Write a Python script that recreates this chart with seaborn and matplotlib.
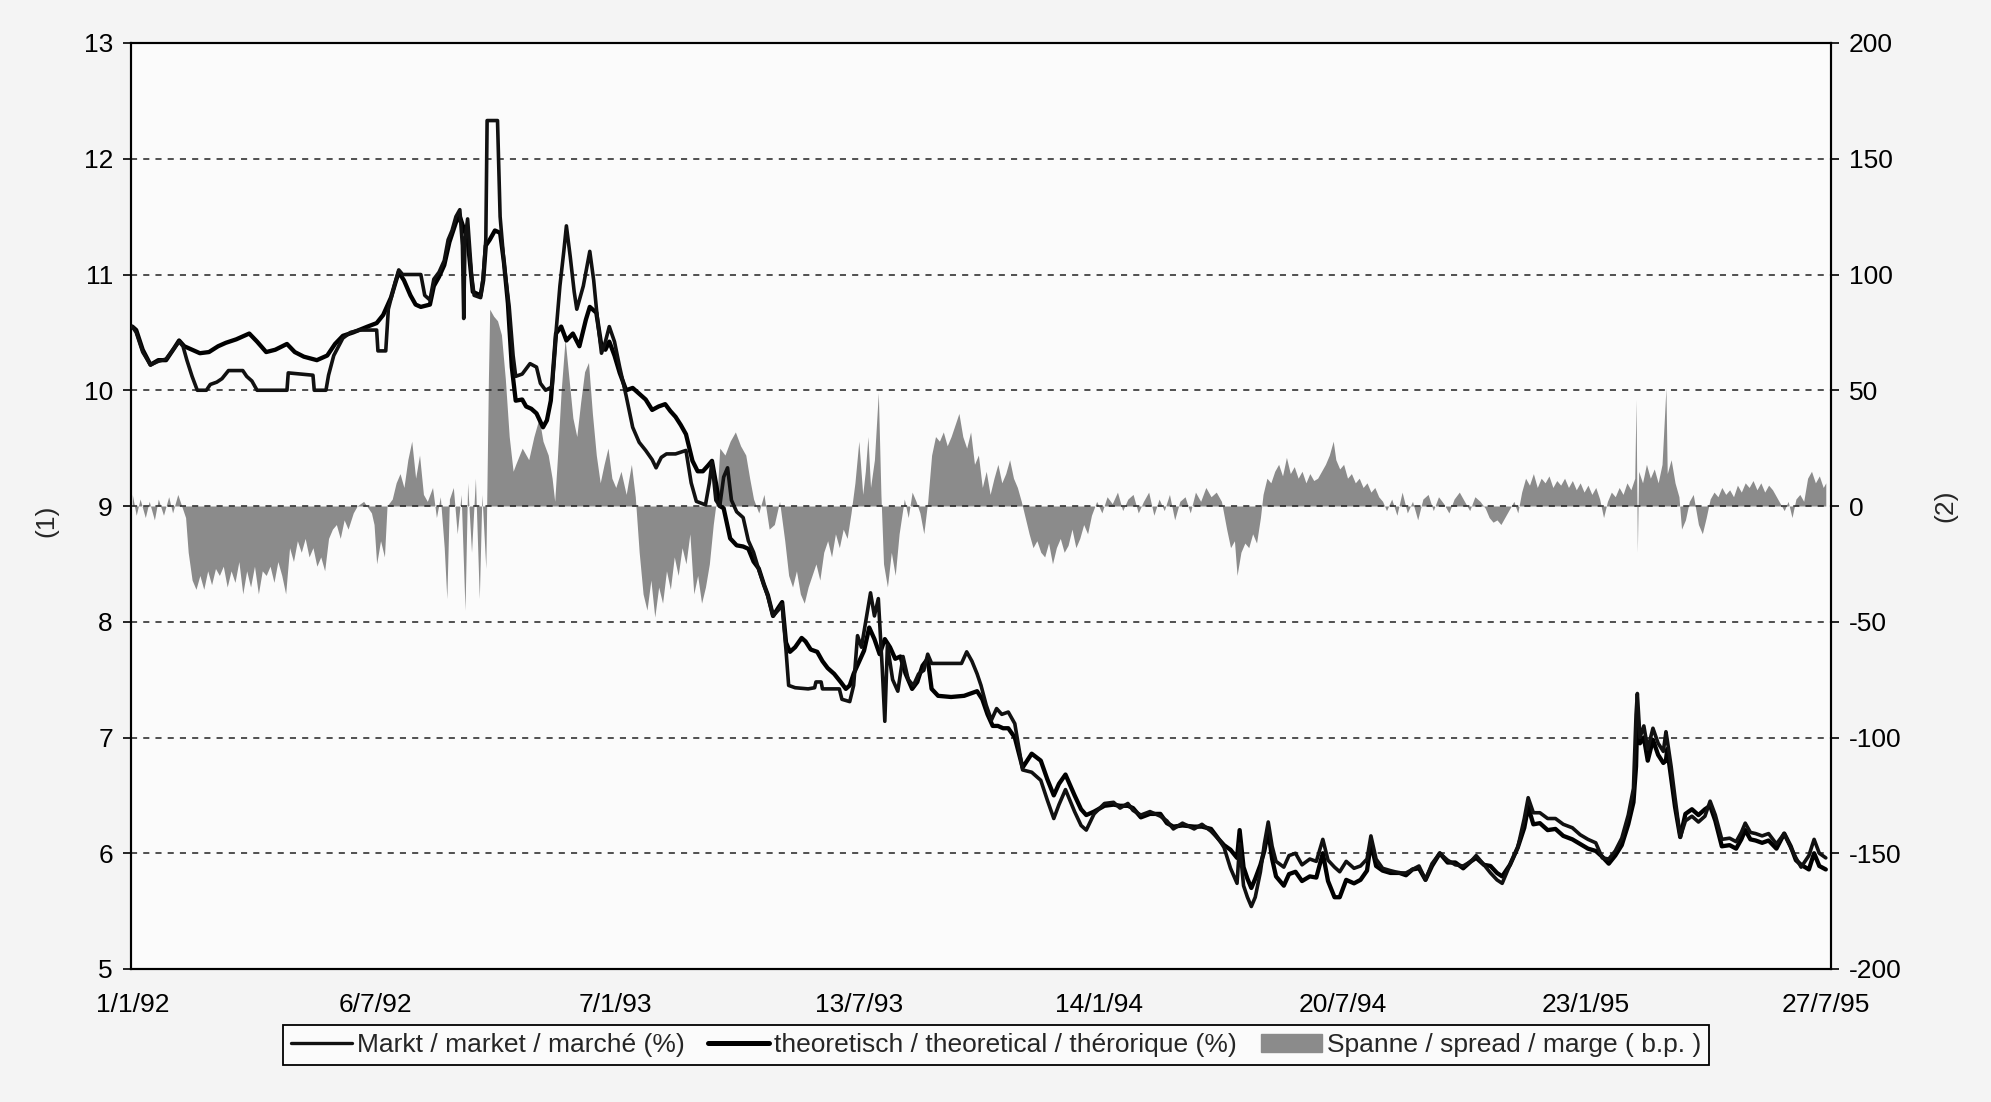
import matplotlib
matplotlib.use("Agg")
import matplotlib.pyplot as plt
from matplotlib.lines import Line2D
from matplotlib.patches import Patch
import numpy as np
import pandas as pd
import seaborn as sns

# ---------------------------------------------------------------------------
# Data: days counted from 1 Jan 1992
# ---------------------------------------------------------------------------
START = pd.Timestamp("1992-01-01")

# market yield (%)
mkt_day = [0, 3, 8, 14, 20, 26, 32, 36, 39, 42, 46, 50, 57, 60, 65, 69, 74, 85, 88, 92,
           96, 119, 120, 139, 140, 149, 151, 155, 162, 168, 175, 188, 189, 195, 197, 202, 205, 208, 222, 225,
           229, 232, 236, 240, 243, 246, 249, 252, 254, 255, 256, 258, 261, 263, 268, 270, 272, 273, 281, 283,
           286, 290, 293, 295, 300, 306, 311, 314, 318, 323, 326, 329, 332, 334, 337, 340, 342, 347, 352, 355,
           358, 361, 364, 367, 371, 375, 380, 385, 390, 395, 400, 403, 407, 411, 418, 426, 430, 434, 441, 444,
           446, 449, 452, 455, 458, 461, 465, 470, 474, 478, 482, 486, 489, 493, 497, 500, 503, 505, 510, 520,
           525, 526, 530, 531, 544, 546, 552, 555, 558, 561, 565, 568, 571, 574, 577, 579, 581, 585, 589, 593,
           597, 601, 605, 609, 612, 615, 638, 642, 646, 650, 653, 657, 661, 665, 669, 674,
           679, 685, 692, 699, 704, 709, 713, 718, 725, 730, 734, 740, 748, 755, 760, 766, 770, 776, 783, 791,
           796, 801, 808, 817, 823, 830, 836, 840, 845, 850, 852, 855, 858, 861, 864, 868, 871, 874, 877, 880,
           886, 890, 895, 900, 906, 911, 916, 920, 925, 929, 934, 940, 945, 950, 953, 957, 962, 968, 975, 980,
           985, 990, 995, 1000, 1006, 1012, 1018, 1024, 1030, 1034, 1040, 1045, 1050, 1054, 1060, 1066, 1071, 1074, 1078, 1083,
           1089, 1095, 1101, 1108, 1114, 1120, 1126, 1131, 1136, 1141, 1146, 1151, 1155, 1157, 1158, 1160, 1163, 1166, 1170, 1174,
           1178, 1180, 1181, 1184, 1187, 1191, 1195, 1200, 1205, 1210, 1214, 1218, 1223, 1229, 1234, 1238, 1241, 1245, 1249, 1254,
           1259, 1265, 1271, 1276, 1280, 1284, 1290, 1294, 1298, 1303]
mkt_pct = [10.55, 10.50, 10.33, 10.22, 10.25, 10.27, 10.36, 10.42, 10.38, 10.26, 10.12, 10.00, 10.00, 10.05, 10.07, 10.10, 10.17, 10.17, 10.12, 10.08,
           10.00, 10.00, 10.15, 10.13, 10.00, 10.00, 10.13, 10.30, 10.45, 10.50, 10.52, 10.52, 10.34, 10.34, 10.70, 10.92, 11.04, 11.00, 11.00, 10.82,
           10.78, 10.96, 11.02, 11.12, 11.30, 11.38, 11.50, 11.56, 11.25, 10.62, 11.30, 11.48, 11.00, 10.82, 10.80, 10.98, 11.30, 12.33, 12.33, 11.50,
           11.10, 10.72, 10.30, 10.12, 10.14, 10.23, 10.20, 10.06, 10.00, 10.03, 10.50, 10.90, 11.20, 11.42, 11.15, 10.85, 10.70, 10.90, 11.20, 10.95,
           10.60, 10.32, 10.42, 10.55, 10.42, 10.20, 9.95, 9.68, 9.55, 9.48, 9.40, 9.33, 9.42, 9.45, 9.45, 9.48, 9.20, 9.04, 9.01, 9.20,
           9.38, 9.05, 9.00, 9.25, 9.33, 9.05, 8.95, 8.90, 8.70, 8.60, 8.45, 8.32, 8.22, 8.05, 8.10, 8.15, 7.75, 7.45, 7.43, 7.42,
           7.43, 7.48, 7.48, 7.42, 7.42, 7.33, 7.31, 7.45, 7.88, 7.78, 8.05, 8.25, 8.05, 8.20, 7.60, 7.14, 7.80, 7.50, 7.40, 7.70,
           7.50, 7.45, 7.55, 7.58, 7.72, 7.64, 7.64, 7.74, 7.66, 7.55, 7.45, 7.28, 7.15, 7.25, 7.20, 7.22,
           7.12, 6.72, 6.70, 6.63, 6.46, 6.30, 6.42, 6.55, 6.36, 6.24, 6.20, 6.34, 6.43, 6.44, 6.39, 6.43, 6.37, 6.33, 6.36, 6.32,
           6.28, 6.21, 6.26, 6.21, 6.25, 6.19, 6.12, 6.05, 5.87, 5.74, 6.08, 5.72, 5.62, 5.54, 5.62, 5.84, 6.08, 6.27, 6.06, 5.93,
           5.88, 5.98, 6.00, 5.90, 5.95, 5.93, 6.12, 5.94, 5.88, 5.84, 5.93, 5.87, 5.89, 5.95, 6.15, 5.95, 5.87, 5.85, 5.83, 5.83,
           5.86, 5.89, 5.77, 5.91, 6.00, 5.94, 5.90, 5.89, 5.93, 5.98, 5.90, 5.83, 5.77, 5.74, 5.90, 6.05, 6.30, 6.48, 6.35, 6.35,
           6.30, 6.30, 6.25, 6.22, 6.16, 6.12, 6.09, 5.96, 5.95, 6.02, 6.13, 6.33, 6.56, 7.20, 7.38, 7.00, 7.10, 6.90, 7.08, 6.95,
           6.88, 7.05, 6.98, 6.75, 6.48, 6.14, 6.28, 6.32, 6.27, 6.32, 6.45, 6.33, 6.12, 6.13, 6.10, 6.18, 6.26, 6.18, 6.17, 6.15,
           6.17, 6.08, 6.17, 6.05, 5.96, 5.88, 5.98, 6.12, 6.00, 5.96]

# theoretical yield (%)
thr_day = [0, 3, 8, 14, 20, 26, 32, 36, 40, 46, 52, 59, 66, 72, 80, 90, 96, 103, 110, 119,
           125, 132, 142, 150, 156, 162, 170, 181, 188, 193, 199, 203, 205, 209, 214, 218, 222, 229, 232, 236,
           240, 244, 249, 252, 255, 258, 262, 268, 270, 272, 275, 279, 283, 286, 289, 292, 295, 300, 303, 307,
           311, 316, 319, 322, 326, 330, 334, 339, 344, 349, 352, 357, 361, 364, 367, 371, 375, 380, 385, 390,
           395, 400, 405, 410, 414, 418, 422, 426, 431, 435, 439, 443, 446, 449, 452, 455, 460, 465, 470, 474,
           478, 482, 486, 489, 493, 497, 500, 503, 506, 510, 515, 518, 522, 527, 531, 535, 540, 545, 549, 552,
           555, 559, 563, 567, 571, 575, 579, 583, 587, 591, 595, 600, 604, 608, 612, 615, 620, 630, 640, 645,
           650, 654, 658, 662, 666, 670, 674,
           679, 685, 692, 699, 704, 709, 713, 718, 725, 730, 734, 740, 748, 755, 760, 766, 770, 776, 783, 791,
           796, 801, 808, 817, 823, 830, 836, 840, 845, 850, 852, 855, 858, 861, 864, 868, 871, 874, 877, 880,
           886, 890, 895, 900, 906, 911, 916, 920, 925, 929, 934, 940, 945, 950, 953, 957, 962, 968, 975, 980,
           985, 990, 995, 1000, 1006, 1012, 1018, 1024, 1030, 1034, 1040, 1045, 1050, 1054, 1060, 1066, 1071, 1074, 1078, 1083,
           1089, 1095, 1101, 1108, 1114, 1120, 1126, 1131, 1136, 1141, 1146, 1151, 1155, 1157, 1158, 1160, 1163, 1166, 1170, 1174,
           1178, 1180, 1181, 1184, 1187, 1191, 1195, 1200, 1205, 1210, 1214, 1218, 1223, 1229, 1234, 1238, 1241, 1245, 1249, 1254,
           1259, 1265, 1271, 1276, 1280, 1284, 1290, 1294, 1298, 1303]
thr_pct = [10.55, 10.52, 10.35, 10.22, 10.26, 10.26, 10.36, 10.43, 10.38, 10.35, 10.32, 10.33, 10.38, 10.41, 10.44, 10.49, 10.42, 10.33, 10.35, 10.40,
           10.33, 10.29, 10.26, 10.30, 10.40, 10.47, 10.50, 10.55, 10.58, 10.65, 10.80, 10.95, 11.02, 10.95, 10.82, 10.74, 10.72, 10.74, 10.90, 10.98,
           11.08, 11.28, 11.45, 11.50, 11.40, 11.30, 10.85, 10.82, 10.95, 11.25, 11.30, 11.38, 11.36, 11.10, 10.75, 10.20, 9.91, 9.92, 9.86, 9.84,
           9.80, 9.68, 9.74, 9.91, 10.49, 10.55, 10.43, 10.49, 10.38, 10.61, 10.72, 10.67, 10.38, 10.35, 10.42, 10.30, 10.15, 10.00, 10.02, 9.97,
           9.92, 9.83, 9.86, 9.88, 9.82, 9.77, 9.70, 9.62, 9.39, 9.30, 9.30, 9.35, 9.39, 9.20, 9.00, 8.98, 8.72, 8.66, 8.65, 8.63,
           8.52, 8.46, 8.32, 8.23, 8.05, 8.12, 8.17, 7.82, 7.74, 7.78, 7.86, 7.83, 7.76, 7.74, 7.66, 7.60, 7.55, 7.48, 7.42, 7.45,
           7.55, 7.65, 7.75, 7.95, 7.85, 7.72, 7.85, 7.78, 7.68, 7.70, 7.55, 7.42, 7.48, 7.62, 7.68, 7.42, 7.36, 7.35, 7.36, 7.38,
           7.40, 7.33, 7.20, 7.10, 7.10, 7.08, 7.08,
           7.00, 6.74, 6.86, 6.80, 6.64, 6.50, 6.60, 6.68, 6.50, 6.38, 6.33, 6.36, 6.41, 6.42, 6.41, 6.41, 6.39, 6.31, 6.34, 6.34,
           6.26, 6.23, 6.24, 6.23, 6.23, 6.21, 6.12, 6.07, 6.03, 5.96, 6.20, 5.88, 5.78, 5.70, 5.78, 5.90, 6.02, 6.20, 5.95, 5.80,
           5.72, 5.82, 5.84, 5.76, 5.80, 5.79, 6.00, 5.76, 5.62, 5.62, 5.77, 5.74, 5.77, 5.85, 6.09, 5.89, 5.85, 5.83, 5.83, 5.81,
           5.86, 5.87, 5.77, 5.89, 6.00, 5.92, 5.92, 5.87, 5.93, 5.96, 5.90, 5.89, 5.83, 5.80, 5.90, 6.05, 6.22, 6.40, 6.25, 6.26,
           6.20, 6.21, 6.15, 6.12, 6.08, 6.04, 6.02, 5.97, 5.91, 5.98, 6.07, 6.25, 6.44, 6.75, 7.20, 6.95, 7.00, 6.80, 6.98, 6.85,
           6.78, 6.80, 6.90, 6.65, 6.40, 6.14, 6.34, 6.38, 6.33, 6.38, 6.41, 6.28, 6.06, 6.07, 6.04, 6.12, 6.20, 6.12, 6.11, 6.09,
           6.11, 6.04, 6.17, 6.06, 5.94, 5.90, 5.86, 6.00, 5.89, 5.86]

# spread market - theoretical (basis points)
spr_day = [0, 3, 6, 10, 13, 17, 20, 24, 28, 31, 35, 38,
           41, 43, 46, 49, 52, 55, 58, 61, 64, 67, 70, 73, 76, 79, 82, 85, 88, 91, 94, 97, 100, 103, 106, 109,
           112, 115, 118, 121, 124, 127, 130, 133, 136, 139, 142, 145, 148, 151, 154, 157, 160, 163, 166, 170, 173,
           178, 184, 186, 188, 191, 194, 196, 200, 203, 206, 209, 212, 215, 218, 221, 224, 227,
           231, 234, 237, 240, 242, 244, 247, 250, 253, 256, 258, 261, 264, 267, 269, 272,
           274, 275, 278, 281, 284, 287, 290, 293,
           295, 300, 305, 309, 313, 316, 320, 323, 325,
           327, 330, 333, 336, 339, 342, 345, 348, 351, 354, 357, 360, 363, 366, 369,
           372, 376, 380, 384, 387,
           390, 393, 396, 399, 402, 405, 408, 411, 414, 417, 420, 423, 426, 429, 432, 435, 438, 441, 444, 447, 450,
           452, 456, 460, 464, 468, 472, 475,
           478, 482, 486, 490, 494, 498,
           502, 505, 508, 511, 514, 517, 520, 523, 526, 529, 532, 535, 538, 541, 544, 547, 550, 553,
           556, 559, 562, 564, 566, 568, 571, 574, 576,
           578, 581, 584, 587, 590,
           594, 597, 600, 603, 606, 609, 612,
           615, 618, 621, 624, 627, 630, 633, 636, 639, 642, 645, 648, 651,
           654, 657, 660, 663, 666, 669, 672, 675, 678, 681,
           684, 687,
           690, 693, 696, 699, 702, 705, 708, 711, 714, 717, 720, 723, 726, 729, 732, 735, 738,
           742, 746, 750, 754, 758, 762, 766, 770, 774, 778, 782, 786, 790, 794, 798, 802, 806, 810, 814, 818,
           822, 826, 830, 834, 838,
           842, 845, 848, 850, 853, 856, 859, 862, 865, 868,
           870, 873, 876, 879, 882, 885, 888, 891, 894, 897, 900, 903, 906, 909,
           912, 915, 918, 921, 924, 926, 929, 932, 935, 938, 941, 944, 947, 950, 953, 956, 959, 962,
           965, 969, 973, 977, 981, 985, 989, 993, 997, 1001, 1005, 1009, 1013, 1017, 1021, 1025, 1029, 1033, 1037, 1041,
           1044, 1047, 1050, 1053, 1056, 1059, 1063, 1066,
           1069, 1072, 1075, 1078, 1081, 1084, 1087, 1090, 1093, 1096, 1099, 1102, 1105, 1108, 1111, 1114, 1117, 1120, 1123, 1126,
           1129, 1132, 1135, 1138,
           1141, 1144, 1147, 1150, 1153, 1156, 1157, 1158, 1159, 1162, 1165, 1168, 1171, 1174, 1177, 1180, 1181, 1184, 1187, 1190,
           1192, 1195, 1198, 1201, 1205, 1208, 1211, 1214, 1217, 1220, 1223, 1226, 1229, 1232, 1235, 1238, 1241, 1244, 1247, 1250,
           1253, 1256, 1259, 1262, 1265, 1268, 1271, 1274, 1277, 1280, 1283, 1286, 1289, 1292, 1295, 1298, 1301, 1303]
spr_bp = [5, -4, 3, -5, 2, -6, 3, -4, 4, -3, 5, 0,
          -5, -20, -32, -36, -30, -36, -28, -34, -27, -30, -26, -35, -28, -33, -24, -38, -28, -35, -26, -38, -28, -30, -26, -33,
          -24, -30, -38, -18, -24, -15, -20, -14, -22, -18, -26, -22, -28, -14, -10, -8, -14, -6, -10, -3, 0,
          2, -3, -8, -25, -15, -22, 0, 3, 10, 14, 8, 20, 28, 12, 22, 5, 2,
          8, -5, 4, -18, -40, 3, 8, -12, 5, -45, 10, -20, 12, -40, 5, -27,
          55, 85, 82, 80, 74, 55, 30, 15,
          18, 25, 20, 30, 38, 28, 22, 12, 2,
          20, 50, 72, 55, 38, 30, 45, 58, 62, 40, 22, 10, 18, 25, 12,
          8, 15, 5, 18, 4,
          -20, -38, -45, -32, -48, -35, -42, -28, -36, -22, -30, -18, -25, -12, -38, -30, -42, -35, -25, -8, 5,
          25, 22, 28, 32, 26, 22, 12,
          3, -3, 5, -10, -8, 2,
          -15, -30, -35, -28, -38, -42, -35, -30, -25, -32, -20, -15, -22, -12, -18, -10, -14, -3,
          10, 28, 5, 15, 30, 8, 20, 49, 5,
          -25, -35, -20, -30, -12,
          3, -5, 6, 2, -3, -12, 2,
          22, 30, 28, 32, 26, 30, 35, 40, 30, 25, 32, 18, 22,
          8, 15, 5, 12, 18, 10, 14, 20, 12, 8,
          2, -5,
          -12, -18, -15, -20, -22, -16, -25, -18, -14, -20, -17, -10, -18, -14, -8, -12, -4,
          2, -3, 4, 1, 6, -2, 3, 5, -3, 2, 6, -4, 3, -2, 5, -6, 2, 4, -3, 6,
          2, 8, 4, 6, 2,
          -10, -18, -15, -30, -20, -16, -18, -12, -16, -5,
          5, 12, 10, 15, 18, 13, 21, 14, 17, 12, 15, 10, 14, 11,
          12, 15, 18, 22, 28, 20, 16, 18, 12, 14, 10, 12, 8, 10, 6, 8, 4, 2,
          -2, 3, -4, 6, -3, 2, -6, 3, 5, -2, 4, 1, -3, 3, 6, 2, -2, 4, 2, -1,
          -5, -7, -6, -8, -5, -2, 2, -3,
          6, 12, 9, 14, 8, 12, 10, 13, 8, 11, 9, 12, 8, 11, 7, 10, 6, 9, 5, 8,
          3, -5, 2, 6,
          4, 8, 5, 10, 7, 12, 46, -20, 15, 10, 18, 12, 16, 10, 18, 51, 14, 20, 10, 4,
          -10, -6, 2, 5, -8, -12, -5, 3, 6, 4, 8, 5, 7, 4, 9, 6, 10, 8, 11, 7,
          10, 6, 9, 7, 4, 1, -2, 2, -5, 3, 5, 2, 12, 15, 10, 13, 8, 10]

# axis ticks
tick_dates = ["1992-01-01", "1992-07-06", "1993-01-07", "1993-07-13",
              "1994-01-14", "1994-07-20", "1995-01-23", "1995-07-27"]
tick_labels = ["1/1/92", "6/7/92", "7/1/93", "13/7/93", "14/1/94", "20/7/94", "23/1/95", "27/7/95"]
left_ticks = [5, 6, 7, 8, 9, 10, 11, 12, 13]
right_ticks = [-200, -150, -100, -50, 0, 50, 100, 150, 200]

series_names = ["Markt / market / marché (%)",
                "theoretisch / theoretical / thérorique (%)",
                "Spanne / spread / marge ( b.p. )"]


def to_dates(days):
    return START + pd.to_timedelta(np.asarray(days), unit="D")


mkt = pd.DataFrame({"date": to_dates(mkt_day), "pct": mkt_pct})
thr = pd.DataFrame({"date": to_dates(thr_day), "pct": thr_pct})
spr = pd.DataFrame({"date": to_dates(spr_day), "bp": spr_bp})

# ---------------------------------------------------------------------------
# Figure
# ---------------------------------------------------------------------------
sns.set_theme(style="white")
plt.rcParams["font.family"] = ["Liberation Sans", "DejaVu Sans"]
FS = 19

W, H = 1991, 1102
fig = plt.figure(figsize=(W / 100, H / 100), dpi=100, facecolor="#f4f4f4")
L, R, T, B = 131, 1831, 43, 969
ax = fig.add_axes([L / W, 1 - B / H, (R - L) / W, (B - T) / H])
ax2 = ax.twinx()

# spread on the secondary axis, drawn underneath the yield lines
ax2.fill_between(spr["date"], spr["bp"], 0, color="#8b8b8b", linewidth=0, zorder=1)
ax2.set_ylim(-200, 200)
ax2.set_yticks(right_ticks)
ax2.set_yticklabels([str(v) for v in right_ticks], fontsize=FS)

ax.set_zorder(ax2.get_zorder() + 1)
ax.patch.set_visible(False)
ax2.patch.set_visible(True)
ax2.patch.set_facecolor("#fbfbfb")

sns.lineplot(data=mkt, x="date", y="pct", ax=ax, color="#111111", linewidth=2.6,
             estimator=None, legend=False, zorder=4)
sns.lineplot(data=thr, x="date", y="pct", ax=ax, color="#000000", linewidth=3.1,
             estimator=None, legend=False, zorder=3)

ax.set_ylim(5, 13)
ax.set_yticks(left_ticks)
ax.set_yticklabels([str(v) for v in left_ticks], fontsize=FS)
ax.set_xlim(pd.Timestamp("1991-12-31"), pd.Timestamp("1995-07-31"))
ax.set_xticks(pd.to_datetime(tick_dates))
ax.set_xticklabels(tick_labels, fontsize=FS)
ax.set_xlabel("")

for y in left_ticks[1:-1]:
    ax.axhline(y, color="#222222", linewidth=1.1, linestyle=(0, (4, 4)), zorder=2)

ax.tick_params(axis="y", direction="out", length=6, width=1.2, pad=7, colors="black")
ax2.tick_params(axis="y", direction="out", length=6, width=1.2, pad=7, colors="black")
ax.tick_params(axis="x", direction="inout", length=10, width=1.2, pad=12, colors="black")

for a in (ax, ax2):
    for s in a.spines.values():
        s.set_color("black")
        s.set_linewidth(1.5)

ax.set_ylabel("(1)", fontsize=FS, rotation=90)
ax.yaxis.set_label_coords(-0.043, 0.484)
ax2.set_ylabel("(2)", fontsize=FS, rotation=90)
ax2.yaxis.set_label_coords(1.06, 0.50)

handles = [Line2D([], [], color="#111111", linewidth=2.4),
           Line2D([], [], color="#000000", linewidth=3.6),
           Patch(facecolor="#8b8b8b", edgecolor="#8b8b8b")]
leg = fig.legend(handles, series_names, loc="center",
                 bbox_to_anchor=(996 / W, 1 - 1045 / H), ncol=3, fontsize=FS,
                 frameon=True, fancybox=False, framealpha=1, facecolor="#fbfbfb",
                 edgecolor="black", handlelength=2.3, handletextpad=0.2,
                 columnspacing=0.9, borderpad=0.3)
leg.get_frame().set_linewidth(1.3)

fig.savefig("out.png", dpi=100, facecolor=fig.get_facecolor())
